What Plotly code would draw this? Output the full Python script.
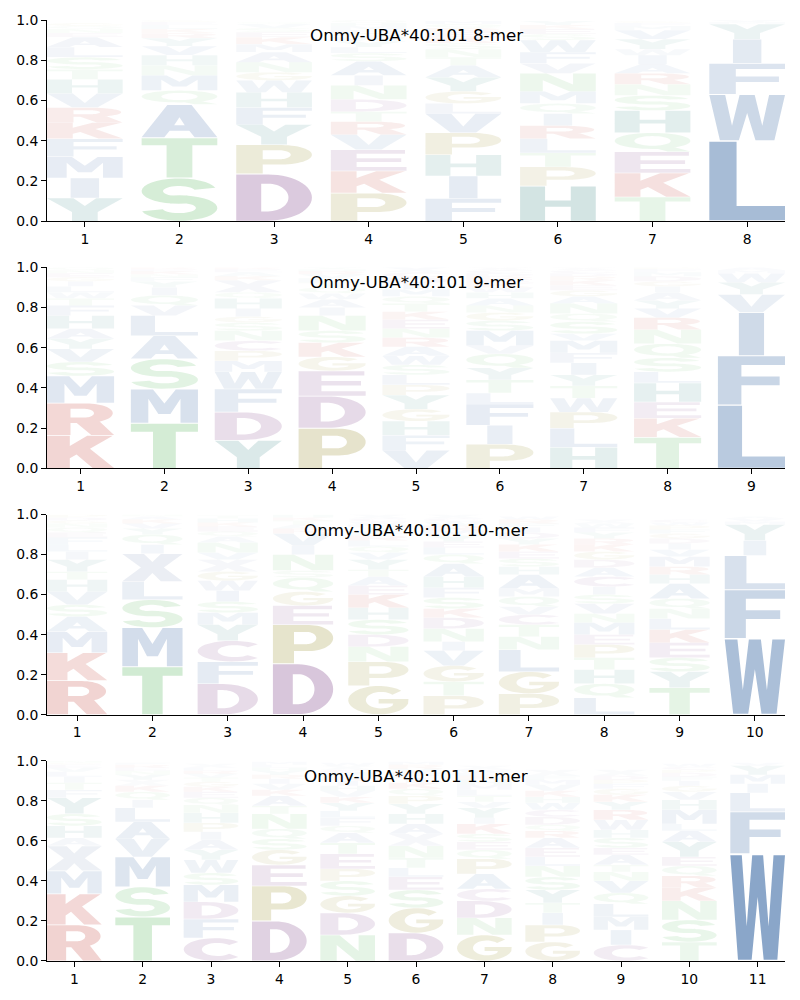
import math
import plotly.graph_objects as go

# ---------------- data (letters listed bottom -> top, heights = probability) -------------
titles = ["Onmy-UBA*40:101 8-mer", "Onmy-UBA*40:101 9-mer",
          "Onmy-UBA*40:101 10-mer", "Onmy-UBA*40:101 11-mer"]

mer8_letters = ["YIMFKRVHTSLAENQG", "STAQMNHVYRKLEG", "DPYFHWGNAMKESVQ",
                "PKEVRTDNIASLYWGFMHQ", "FIHPVLGYATNSKERQM", "HPTLRIQMNVFWSEKY",
                "TKEQHSNRAIWYVMFG", "LWFIYMV"]
mer8_heights = [
    [.115, .1, .105, .09, .08, .075, .07, .07, .05, .06, .05, .05, .02, .02, .015, .015],
    [.215, .2, .165, .07, .075, .05, .05, .045, .04, .025, .02, .02, .015, .01],
    [.235, .145, .1, .085, .075, .06, .04, .05, .05, .04, .035, .025, .02, .02, .01],
    [.14, .11, .105, .075, .065, .05, .06, .07, .05, .07, .04, .03, .03, .02, .02, .015, .02, .015, .015],
    [.113, .112, .105, .11, .095, .05, .06, .07, .06, .04, .04, .03, .03, .025, .02, .02, .015],
    [.175, .095, .07, .07, .065, .06, .05, .06, .09, .05, .055, .06, .03, .025, .02, .02],
    [.12, .12, .105, .095, .11, .075, .055, .055, .045, .045, .03, .05, .045, .02, .015, .01],
    [.4, .23, .155, .12, .075, .01, .01],
]

mer9_letters = ["KRMSVYAHFTWLIGENQ", "TMSALVQIYFNKER", "YDFWMPCNSGIHQXKAER",
                "PDEGKSNIAWQTLVRHY", "VFHGYPLSWARNEKTQMIDCX", "PIFLTYQVMSGNAHWKERDCX",
                "HLPWTYIFMVSQNAGEKRDCX", "TKEHLSQNRVYAIGDMFP", "LFIVYWMA"]
mer9_heights = [
    [.165, .16, .135, .07, .065, .05, .05, .065, .05, .035, .03, .03, .025, .02, .02, .015, .015],
    [.225, .17, .15, .115, .1, .05, .05, .04, .03, .02, .015, .015, .01, .01],
    [.14, .14, .115, .085, .055, .05, .05, .05, .04, .03, .04, .05, .03, .06, .02, .02, .015, .01],
    [.2, .16, .125, .07, .07, .06, .075, .04, .04, .03, .03, .025, .02, .02, .015, .01, .01],
    [.09, .075, .07, .06, .07, .05, .05, .05, .045, .045, .045, .045, .045, .04, .04, .035, .035, .03, .03, .025, .025],
    [.12, .095, .105, .055, .065, .06, .07, .04, .075, .05, .04, .035, .035, .03, .025, .02, .02, .015, .015, .015, .015],
    [.105, .095, .08, .07, .06, .055, .06, .05, .06, .035, .06, .04, .05, .035, .03, .025, .025, .02, .015, .015, .015],
    [.155, .095, .08, .095, .055, .07, .07, .07, .06, .045, .04, .04, .03, .025, .025, .02, .015, .01],
    [.315, .245, .215, .09, .06, .045, .015, .015],
]

mer10_letters = ["RKMASVHTYILFEQNGDP", "TMSLXIQYVKAN", "DFCYMSIWGXVNAQEKHT",
                 "DPEGQSNIVRATKH", "GPNDSHKEATYVQLRFIMWCX", "PTGVINDKSFHAQLEYMRWCX",
                 "PGLNTCVQMAHSEKYDIFRW", "LQHTPEMNVSICADGKRYFWX", "TYSEKLNQAHRMVIDGFPWC",
                 "WFLIYMVA"]
mer10_heights = [
    [.17, .14, .105, .075, .06, .065, .06, .04, .06, .04, .035, .035, .025, .025, .02, .015, .015, .015],
    [.24, .195, .14, .09, .14, .045, .05, .03, .025, .02, .015, .01],
    [.155, .11, .105, .08, .06, .055, .055, .05, .045, .06, .035, .05, .03, .025, .025, .02, .02, .015],
    [.255, .195, .095, .07, .07, .035, .08, .045, .06, .025, .02, .02, .015, .015],
    [.145, .12, .075, .06, .075, .06, .065, .045, .045, .035, .05, .035, .03, .03, .025, .02, .02, .015, .015, .015, .02],
    [.095, .07, .08, .075, .045, .065, .055, .045, .055, .05, .055, .065, .045, .035, .03, .03, .025, .025, .02, .015, .02],
    [.105, .11, .11, .065, .06, .05, .04, .05, .04, .07, .04, .04, .035, .035, .03, .03, .025, .02, .02, .015],
    [.085, .07, .07, .06, .065, .05, .06, .045, .05, .045, .04, .05, .045, .04, .04, .035, .03, .03, .025, .02, .02],
    [.135, .08, .07, .075, .065, .055, .05, .05, .075, .045, .04, .05, .035, .03, .025, .025, .02, .02, .015, .015],
    [.38, .245, .17, .075, .08, .015, .015, .01],
]

mer11_letters = ["RKMXAHSYFTILVEGN", "TSMVALIQKXYNERF", "CFDMSWYAIPHNQEKGTVRLX",
                 "DPEGSQNTAKVIRYHLM", "NDGSPETAQFLYKVHIRMCXW", "DGSELTNXAHYPQKIFVRM",
                 "GNDCAPQESKIYVTLMHRFWX", "GPITYSNLEARQDCWHKVMFX", "CIMLQVNTAESHWRYKGFPDX",
                 "TSNKRQEYALMHVGIFDPCW", "WFLIMYV"]
mer11_heights = [
    [.18, .155, .115, .125, .04, .06, .06, .08, .04, .035, .03, .025, .02, .015, .01, .01],
    [.22, .15, .15, .09, .085, .07, .04, .04, .03, .03, .025, .02, .015, .015, .01],
    [.115, .095, .085, .085, .06, .065, .05, .05, .04, .045, .05, .04, .035, .03, .025, .025, .02, .02, .015, .015, .02],
    [.2, .175, .105, .075, .055, .05, .075, .04, .05, .03, .03, .025, .02, .02, .015, .015, .015],
    [.13, .11, .085, .075, .06, .075, .055, .05, .035, .04, .035, .04, .03, .03, .025, .025, .02, .02, .015, .02, .015],
    [.14, .125, .09, .065, .045, .05, .06, .06, .05, .05, .05, .04, .035, .03, .025, .025, .02, .02, .015],
    [.13, .085, .085, .06, .075, .075, .045, .04, .04, .05, .03, .05, .03, .03, .03, .025, .025, .02, .015, .015, .02],
    [.095, .085, .06, .05, .065, .065, .055, .045, .045, .05, .035, .03, .04, .035, .035, .03, .03, .03, .025, .02, .03],
    [.08, .075, .065, .065, .055, .06, .045, .035, .05, .035, .05, .04, .05, .05, .04, .035, .03, .025, .02, .02, .03],
    [.095, .11, .095, .065, .06, .05, .045, .075, .055, .035, .07, .05, .04, .03, .025, .02, .02, .015, .015, .015],
    [.535, .21, .095, .045, .045, .045, .015],
]

logos = [(mer8_letters, mer8_heights), (mer9_letters, mer9_heights),
         (mer10_letters, mer10_heights), (mer11_letters, mer11_heights)]

# ---------------- styling ----------------
BASE = {}
for aa in "AVLIMFW":
    BASE[aa] = (68, 112, 168)
for aa in "KR":
    BASE[aa] = (190, 50, 40)
for aa in "STNQ":
    BASE[aa] = (96, 186, 100)
for aa in "DEC":
    BASE[aa] = (125, 65, 135)
for aa in "PG":
    BASE[aa] = (150, 140, 40)
for aa in "HY":
    BASE[aa] = (45, 128, 125)
BASE["X"] = (140, 158, 192)


def arc(cx, cy, rx, ry, a0, a1, n=28):
    pts = []
    for i in range(n + 1):
        a = math.radians(a0 + (a1 - a0) * i / n)
        pts.append((cx + rx * math.cos(a), cy + ry * math.sin(a)))
    return pts


def ring(cx, cy, rxo, ryo, rxi, ryi, a0, a1, cxi=None, cyi=None):
    cxi = cx if cxi is None else cxi
    cyi = cy if cyi is None else cyi
    return arc(cx, cy, rxo, ryo, a0, a1) + arc(cxi, cyi, rxi, ryi, a1, a0)


GLYPHS = {
    "A": [([(0, 0), (0.3, 0), (0.37, 0.2), (0.63, 0.2), (0.7, 0), (1, 0), (0.66, 1), (0.34, 1)], False),
          ([(0.43, 0.37), (0.57, 0.37), (0.5, 0.62)], True)],
    "C": [(ring(0.5, 0.5, 0.5, 0.5, 0.25, 0.29, 42, 318, cxi=0.54), False)],
    "D": [([(0, 0), (0.42, 0)] + arc(0.42, 0.5, 0.58, 0.5, -90, 90) + [(0, 1)], False),
          ([(0.33, 0.2), (0.42, 0.2)] + arc(0.42, 0.5, 0.27, 0.3, -90, 90) + [(0.33, 0.8)], True)],
    "E": [([(0, 0), (1, 0), (1, 0.18), (0.34, 0.18), (0.34, 0.42), (0.93, 0.42), (0.93, 0.6),
            (0.34, 0.6), (0.34, 0.82), (0.98, 0.82), (0.98, 1), (0, 1)], False)],
    "F": [([(0, 0), (0.35, 0), (0.35, 0.4), (0.92, 0.4), (0.92, 0.58), (0.35, 0.58), (0.35, 0.82),
            (1, 0.82), (1, 1), (0, 1)], False)],
    "G": [(arc(0.5, 0.5, 0.5, 0.5, 42, 345) + [(0.99, 0.54), (0.5, 0.54), (0.5, 0.38), (0.74, 0.38)]
           + arc(0.54, 0.5, 0.25, 0.29, 318, 42), False)],
    "H": [([(0, 0), (0.33, 0), (0.33, 0.41), (0.67, 0.41), (0.67, 0), (1, 0), (1, 1), (0.67, 1),
            (0.67, 0.59), (0.33, 0.59), (0.33, 1), (0, 1)], False)],
    "I": [([(0, 0), (1, 0), (1, 1), (0, 1)], False)],
    "K": [([(0, 0), (0.34, 0), (0.34, 0.3), (0.44, 0.42), (0.68, 0), (1, 0), (0.64, 0.6), (0.98, 1),
            (0.6, 1), (0.34, 0.68), (0.34, 1), (0, 1)], False)],
    "L": [([(0, 0), (1, 0), (1, 0.18), (0.36, 0.18), (0.36, 1), (0, 1)], False)],
    "M": [([(0, 0), (0.26, 0), (0.26, 0.72), (0.41, 0.26), (0.59, 0.26), (0.74, 0.72), (0.74, 0),
            (1, 0), (1, 1), (0.67, 1), (0.5, 0.58), (0.33, 1), (0, 1)], False)],
    "N": [([(0, 0), (0.3, 0), (0.3, 0.62), (0.65, 0), (1, 0), (1, 1), (0.7, 1), (0.7, 0.38),
            (0.35, 1), (0, 1)], False)],
    "P": [([(0, 0), (0.35, 0), (0.35, 0.32), (0.6, 0.32)] + arc(0.6, 0.66, 0.4, 0.34, -90, 90) + [(0, 1)], False),
          ([(0.35, 0.5), (0.56, 0.5)] + arc(0.56, 0.66, 0.16, 0.16, -90, 90) + [(0.35, 0.82)], True)],
    "Q": [(arc(0.5, 0.57, 0.5, 0.43, 0, 360, 48), False),
          (arc(0.5, 0.57, 0.24, 0.26, 0, 360, 40), True),
          ([(0.5, 0.22), (0.7, 0), (1, 0), (0.78, 0.24)], False)],
    "R": [([(0, 0), (0.35, 0), (0.35, 0.38), (0.58, 0.38)] + arc(0.58, 0.69, 0.4, 0.31, -90, 90) + [(0, 1)], False),
          ([(0.35, 0.55), (0.55, 0.55)] + arc(0.55, 0.69, 0.15, 0.14, -90, 90) + [(0.35, 0.83)], True),
          ([(0.42, 0.42), (0.66, 0), (1, 0), (0.76, 0.47)], False)],
    "S": [(ring(0.5, 0.7, 0.49, 0.3, 0.21, 0.12, 15, 300), False),
          (ring(0.5, 0.3, 0.5, 0.3, 0.22, 0.12, 120, -165), False)],
    "T": [([(0, 1), (1, 1), (1, 0.82), (0.67, 0.82), (0.67, 0), (0.33, 0), (0.33, 0.82), (0, 0.82)], False)],
    "V": [([(0, 1), (0.34, 1), (0.5, 0.32), (0.66, 1), (1, 1), (0.67, 0), (0.33, 0)], False)],
    "W": [([(0, 1), (0.21, 1), (0.3, 0.32), (0.4, 1), (0.6, 1), (0.7, 0.32), (0.79, 1), (1, 1),
            (0.86, 0), (0.61, 0), (0.5, 0.6), (0.39, 0), (0.14, 0)], False)],
    "X": [([(0, 1), (0.36, 1), (0.5, 0.7), (0.64, 1), (1, 1), (0.69, 0.5), (1, 0), (0.64, 0),
            (0.5, 0.3), (0.36, 0), (0, 0), (0.31, 0.5)], False)],
    "Y": [([(0, 1), (0.35, 1), (0.5, 0.66), (0.65, 1), (1, 1), (0.67, 0.4), (0.67, 0), (0.33, 0),
            (0.33, 0.4)], False)],
}


def area(pts):
    s = 0.0
    for i in range(len(pts)):
        x1, y1 = pts[i]
        x2, y2 = pts[(i + 1) % len(pts)]
        s += x1 * y2 - x2 * y1
    return s / 2


# normalise glyphs: bounding box -> unit square, consistent winding
NORM = {}
for k, contours in GLYPHS.items():
    xs = [p[0] for c, _ in contours for p in c]
    ys = [p[1] for c, _ in contours for p in c]
    x0, x1, y0, y1 = min(xs), max(xs), min(ys), max(ys)
    out = []
    for c, hole in contours:
        pts = [((x - x0) / (x1 - x0), (y - y0) / (y1 - y0)) for x, y in c]
        a = area(pts)
        if (hole and a > 0) or (not hole and a < 0):
            pts = pts[::-1]
        out.append(pts)
    NORM[k] = out

WIDTH = 0.8
NARROW = {"I": 0.375}


def glyph_path(letter, xc, ybot, h):
    pad = 0.012 * h
    yb, yt = ybot + pad, ybot + h - pad
    w = WIDTH * NARROW.get(letter, 1.0)
    xl = xc - w / 2
    parts = []
    for pts in NORM[letter]:
        seg = ["%.4f,%.4f" % (xl + u * w, yb + v * (yt - yb)) for u, v in pts]
        parts.append("M" + "L".join(seg) + "Z")
    return "".join(parts)


# ---------------- figure ----------------
# target pixel boxes of the four panels in the final page picture
px_rows = [(21, 222), (268, 469), (515, 715), (761, 961)]
px_x = (47, 785)
W, H = 800, 1000
# observed page placement of the figure: x offset, y offset and vertical scale
OFFX, OFFY, SY = 8, 17, 0.983

fig = go.Figure()
shapes = []
annotations = []
xdom = [(px_x[0] - OFFX) / W, (px_x[1] - OFFX) / W]
font_fam = "DejaVu Sans, Arial, sans-serif"
layout_axes = {}

for k, ((letters, heights), title) in enumerate(zip(logos, titles)):
    idx = "" if k == 0 else str(k + 1)
    xref, yref = "x" + idx, "y" + idx
    n = len(letters)
    for pos in range(n):
        ybot = 0.0
        for aa, h in zip(letters[pos], heights[pos]):
            r, g, b = BASE[aa]
            alpha = min(1.0, 0.01 + 1.15 * h)
            shapes.append(dict(type="path", path=glyph_path(aa, pos + 1, ybot, h),
                               xref=xref, yref=yref, fillcolor="rgba(%d,%d,%d,%.3f)" % (r, g, b, alpha),
                               line=dict(width=0), fillrule="nonzero", layer="below"))
            ybot += h
    fig.add_trace(go.Scatter(x=[], y=[], xaxis=xref, yaxis=yref, showlegend=False, hoverinfo="skip"))
    top, bot = px_rows[k]
    ydom = [1 - (bot - OFFY) / (H * SY), 1 - (top - OFFY) / (H * SY)]
    axis_common = dict(showline=True, linecolor="black", linewidth=1, mirror=False,
                       ticks="outside", ticklen=5, tickwidth=1, tickcolor="black",
                       showgrid=False, zeroline=False,
                       tickfont=dict(family=font_fam, size=13.9, color="black"))
    layout_axes["xaxis" + idx] = dict(domain=xdom, range=[0.6, n + 0.4], anchor=yref,
                                      tickmode="array", tickvals=list(range(1, n + 1)),
                                      ticktext=[str(i) for i in range(1, n + 1)], **axis_common)
    layout_axes["yaxis" + idx] = dict(domain=ydom, range=[0, 1], anchor=xref,
                                      tickmode="array", tickvals=[0, 0.2, 0.4, 0.6, 0.8, 1.0],
                                      ticktext=["0.0", "0.2", "0.4", "0.6", "0.8", "1.0"], **axis_common)
    annotations.append(dict(text=title, xref=xref + " domain", yref=yref + " domain",
                            x=0.5, y=1 - 15 / (bot - top), xanchor="center", yanchor="middle",
                            showarrow=False, font=dict(family=font_fam, size=16.7, color="black")))

fig.update_layout(width=W, height=H, margin=dict(l=0, r=0, t=0, b=0, pad=0),
                  paper_bgcolor="white", plot_bgcolor="white",
                  shapes=shapes, annotations=annotations, showlegend=False, **layout_axes)

fig.write_html("out.html")
